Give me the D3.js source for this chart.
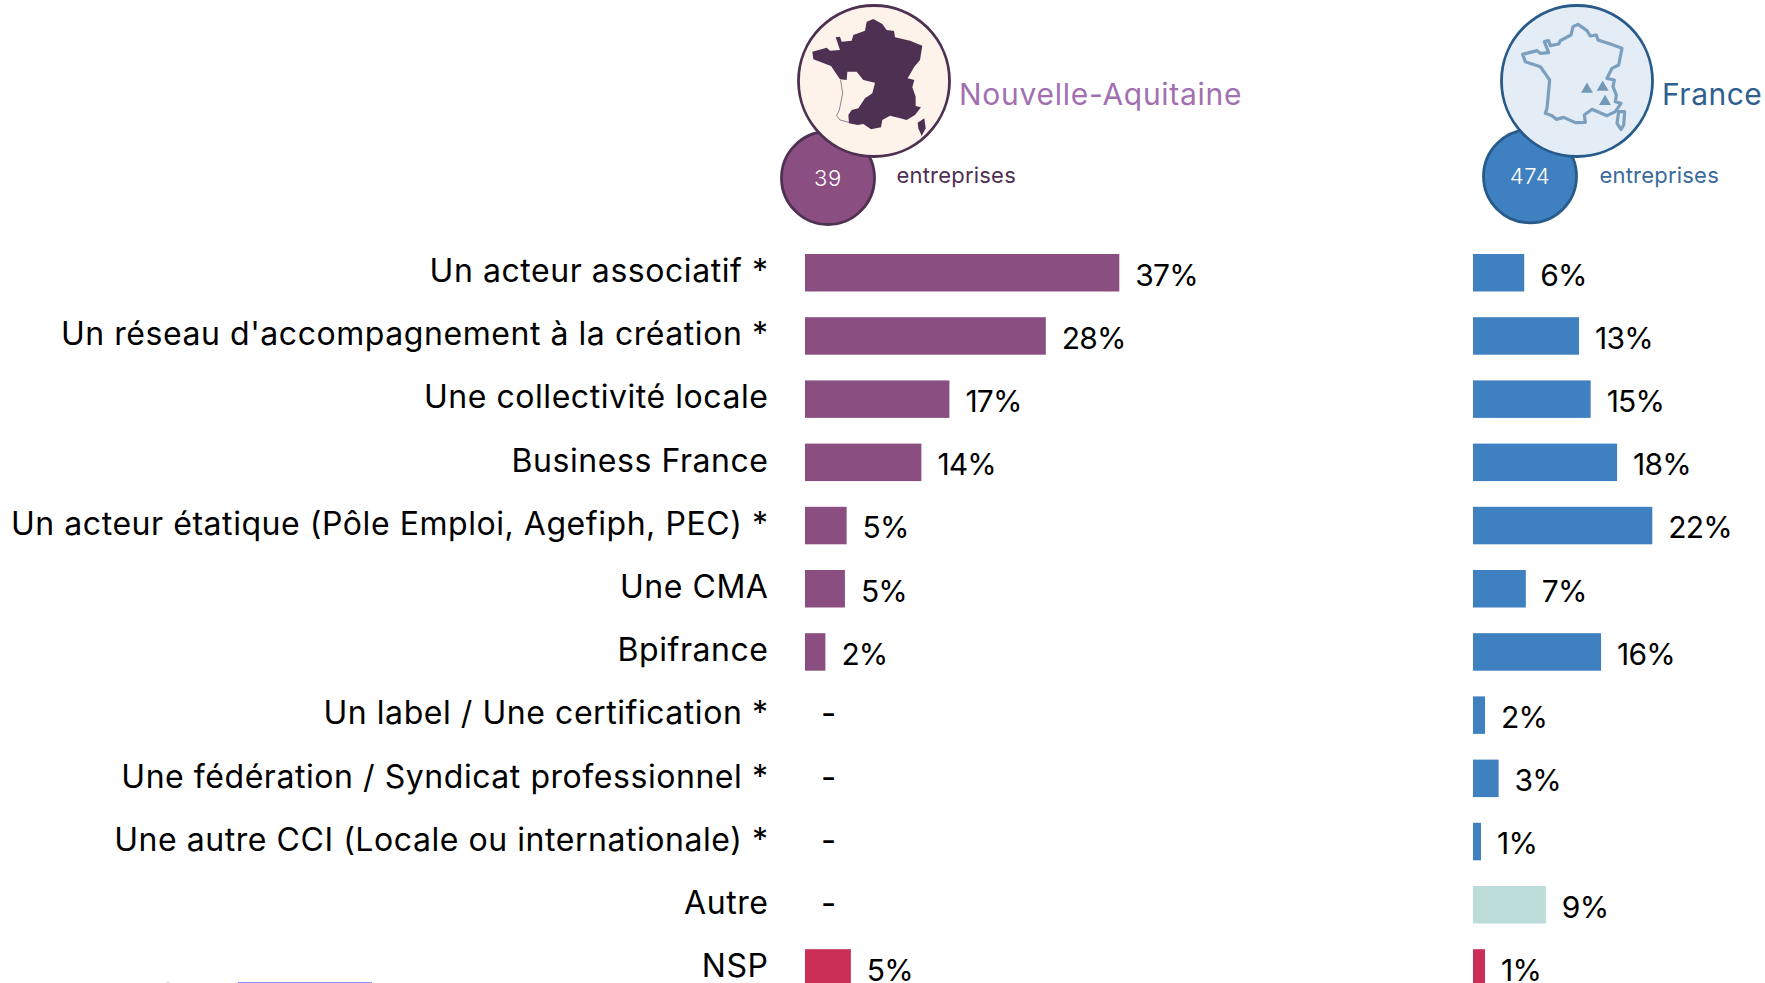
<!DOCTYPE html>
<html lang="fr">
<head>
<meta charset="utf-8">
<title>Nouvelle-Aquitaine / France</title>
<script src="https://cdn.jsdelivr.net/npm/d3@7"></script>
<style>
html,body{margin:0;padding:0;background:#fff;overflow:hidden}
svg{display:block}
text{font-family:Inter,"Open Sans",sans-serif}
</style>
</head>
<body>
<svg id="chart" width="1765" height="983"></svg>
<script>
const categories = ["Un acteur associatif *","Un réseau d'accompagnement à la création *","Une collectivité locale","Business France","Un acteur étatique (Pôle Emploi, Agefiph, PEC) *","Une CMA","Bpifrance","Un label / Une certification *","Une fédération / Syndicat professionnel *","Une autre CCI (Locale ou internationale) *","Autre","NSP"];
const naValues = [37.0,28.35,17.0,13.7,4.9,4.7,2.4,null,null,null,null,5.4];
const frValues = [6.4,13.25,14.7,18.0,22.4,6.6,16.0,1.5,3.2,1.0,9.1,1.5];
const naLabels = ["37%","28%","17%","14%","5%","5%","2%","-","-","-","-","5%"];
const frLabels = ["6%","13%","15%","18%","22%","7%","16%","2%","3%","1%","9%","1%"];
const naTitle = "Nouvelle-Aquitaine", frTitle = "France", unit = "entreprises";
const naCount = 39, frCount = 474;

// Icon outlines, in a 165x160 pictogram box scaled by 3
const naMainland = [[235,57],[262,72],[275,90],[297,93],[300,112],[345,122],[382,137],[375,180],[358,200],[338,235],[358,240],[352,262],[362,290],[362,318],[378,322],[360,345],[335,360],[310,353],[285,347],[262,360],[258,382],[228,388],[205,372],[188,375],[162,370],[160,345],[170,330],[190,325],[210,295],[232,280],[240,248],[205,240],[185,215],[157,215],[155,240],[135,238],[108,198],[55,178],[52,155],[95,143],[105,152],[135,150],[122,112],[135,110],[140,125],[170,122],[175,105],[210,92],[215,65]];
const naCoast = [[137,240],[143,280],[133,330],[125,347],[135,360],[162,367]];
const naCorsica = [[388,355],[392,385],[380,408],[370,385],[368,368]];
const frMainland = [[243,73],[270,92],[280,108],[298,105],[303,120],[340,132],[375,145],[365,195],[345,205],[330,235],[352,240],[348,260],[358,285],[355,305],[372,310],[355,335],[330,347],[285,328],[262,345],[265,367],[235,368],[200,352],[178,358],[165,347],[145,340],[150,325],[158,240],[130,200],[85,185],[77,163],[120,152],[130,160],[155,158],[142,125],[155,122],[160,137],[185,132],[190,122],[222,105],[228,80]];
const frCorsica = [[365,335],[383,335],[380,375],[372,388],[360,370]];
const frPeaks = [[270,268],[317,262],[324,305]];

const svg = d3.select("#chart");
const y = d3.scaleBand().domain(categories).range([254, 254 + 63.2*11 + 37.5]).paddingInner(1 - 37.5/63.2).paddingOuter(0).align(0);
const xNa = d3.scaleLinear().domain([0,37]).range([805, 805 + 314.3]);
const xFr = d3.scaleLinear().domain([0,22.4]).range([1473, 1473 + 179.3]);

// Category labels
svg.append("g").selectAll("text").data(categories).join("text")
  .attr("x", 768.5).attr("y", d => y(d) + 28).attr("text-anchor","end")
  .attr("font-size", 32).attr("letter-spacing", 0.55).attr("fill","#000").text(d => d);

function barColor(i, base){
  if (categories[i] === "NSP") return "#cb2f58";
  if (categories[i] === "Autre") return "#bbdcd9";
  return base;
}
function panel(values, labels, x, base){
  const g = svg.append("g");
  const rows = categories.map((c,i)=>({c,i,v:values[i],l:labels[i]}));
  g.selectAll("rect").data(rows.filter(d=>d.v!==null)).join("rect")
    .attr("x", x(0)).attr("y", d=>y(d.c)).attr("width", d=>x(d.v)-x(0)).attr("height", y.bandwidth())
    .attr("fill", d=>barColor(d.i, base));
  g.selectAll("text").data(rows).join("text")
    .attr("x", d=> d.v===null ? x(0)+16 : x(d.v)+16)
    .attr("y", d=> y(d.c) + (d.v===null ? 29 : 31.5))
    .attr("font-size", d=> d.v===null ? 33 : 30)
    .attr("letter-spacing", d=> d.v===null ? 0 : -0.8)
    .attr("fill","#000").text(d=>d.l);
}
panel(naValues, naLabels, xNa, "#8a4f80");
panel(frValues, frLabels, xFr, "#3f80c0");

// Pictograms
const px = d3.scaleLinear().domain([0,3]).range([0,1]);
const closed = d3.line().x(d=>px(d[0])).y(d=>px(d[1])).curve(d3.curveLinearClosed);
const open = d3.line().x(d=>px(d[0])).y(d=>px(d[1]));

function header(o){
  const g = svg.append("g");
  g.append("circle").attr("cx",o.smallCx).attr("cy",o.smallCy).attr("r",46.5).attr("fill",o.fillSmall).attr("stroke",o.strokeSmall).attr("stroke-width",2.8);
  g.append("text").attr("x",o.smallCx).attr("y",o.smallCy+7.5).attr("text-anchor","middle").attr("font-size",22).attr("font-weight",300).attr("letter-spacing",0.6).attr("fill","#fff").text(o.count);
  g.append("circle").attr("cx",o.cx).attr("cy",81).attr("r",75.5).attr("fill",o.fillBig).attr("stroke",o.strokeBig).attr("stroke-width",2.8);
  g.append("text").attr("x",o.titleX).attr("y",105).attr("font-size",30).attr("letter-spacing",o.titleSpacing).attr("fill",o.titleColor).text(o.title);
  g.append("text").attr("x",o.unitX).attr("y",183).attr("font-size",22).attr("letter-spacing",0.2).attr("fill",o.unitColor).text(unit);
}
header({cx:874,smallCx:828,smallCy:178,fillBig:"#fdf3ea",strokeBig:"#4e3052",fillSmall:"#8a4f80",strokeSmall:"#4e3052",count:naCount,title:naTitle,titleX:959,titleSpacing:0.72,titleColor:"#a270b0",unitX:896.5,unitColor:"#4e3052"});
header({cx:1577,smallCx:1530,smallCy:176.3,fillBig:"#e4ecf6",strokeBig:"#285a8a",fillSmall:"#3f80c0",strokeSmall:"#285a8a",count:frCount,title:frTitle,titleX:1662,titleSpacing:0.5,titleColor:"#2f5f8f",unitX:1599.5,unitColor:"#3a6a9a"});

const na = svg.append("g").attr("transform","translate(795,0)");
na.append("path").attr("d",closed(naMainland)).attr("fill","#4e3052");
na.append("path").attr("d",open(naCoast)).attr("fill","none").attr("stroke","#4e3052").attr("stroke-width",0.6);
na.append("path").attr("d",closed(naCorsica)).attr("fill","#4e3052");

const fr = svg.append("g").attr("transform","translate(1497,0)");
fr.append("path").attr("d",closed(frMainland)).attr("fill","none").attr("stroke","#7a9fbf").attr("stroke-width",3.2).attr("stroke-linejoin","round");
fr.append("path").attr("d",closed(frCorsica)).attr("fill","none").attr("stroke","#7a9fbf").attr("stroke-width",3.2).attr("stroke-linejoin","round");
fr.selectAll("path.peak").data(frPeaks).join("path").attr("class","peak")
  .attr("d", d3.symbol().type(d3.symbolTriangle).size(62))
  .attr("transform", d=>`translate(${px(d[0])},${px(d[1])})`)
  .attr("fill","#7299b8");

// Clipped remnant along the bottom edge of the picture
svg.append("rect").attr("x",238).attr("y",982).attr("width",134).attr("height",1).attr("fill","#8f8ff5");
svg.append("rect").attr("x",166).attr("y",982).attr("width",4).attr("height",1).attr("fill","#d8d8d8");
</script>
</body>
</html>
